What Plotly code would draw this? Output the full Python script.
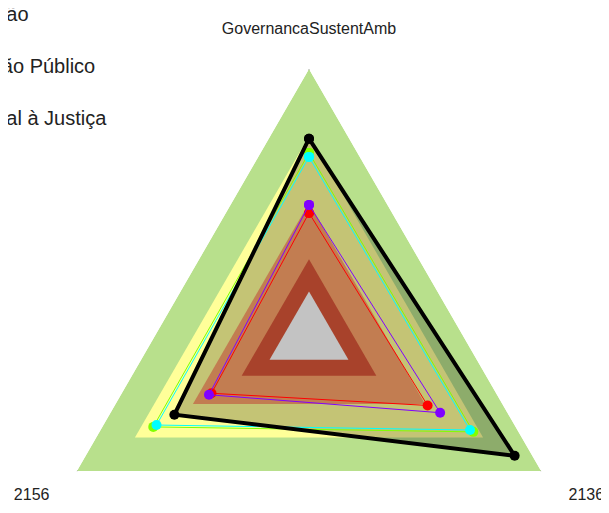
import plotly.graph_objects as go

# eixos do radar
categorias = ["GovernancaSustentAmb", "2156", "2136"]

# faixas de referencia (da maior para a menor)
faixas = [1.0, 0.75, 0.50, 0.29, 0.17]
cores_faixas = ["#b8e08c", "#ffff99", "#c27d51", "#a8422b", "#c3c3c3"]

# series
nomes = ["Média Geral", "Média do Segmento", "Opinião", "Gestão Público", "Formal à Justiça"]
vermelho = [0.463, 0.420, 0.511]
roxo = [0.493, 0.431, 0.565]
verde_limao = [0.687, 0.671, 0.708]
ciano = [0.672, 0.657, 0.694]
preto = [0.740, 0.580, 0.886]

series = [vermelho, roxo, verde_limao, ciano, preto]
cores_series = ["#ff0000", "#8000ff", "#80ff00", "#00ffff", "#000000"]
legenda = [False, False, True, True, True]


def fechar(v):
    return list(v) + list(v[:1])


theta = fechar(categorias)
fig = go.Figure()


def faixa(v, cor):
    fig.add_trace(go.Scatterpolar(r=fechar([v] * len(categorias)), theta=theta, mode="lines",
                                  fill="toself", fillcolor=cor, line=dict(width=0),
                                  showlegend=False, hoverinfo="skip"))


for v, cor in zip(faixas[:2], cores_faixas[:2]):
    faixa(v, cor)

# preenchimento da serie preta
fig.add_trace(go.Scatterpolar(r=fechar(preto), theta=theta, mode="lines", fill="toself",
                              fillcolor="rgba(0,0,0,0.23)", line=dict(width=0),
                              showlegend=False, hoverinfo="skip"))

for v, cor in zip(faixas[2:], cores_faixas[2:]):
    faixa(v, cor)

for nome, vals, cor, leg in zip(nomes, series, cores_series, legenda):
    largura = 4 if cor == "#000000" else 1
    fig.add_trace(go.Scatterpolar(r=fechar(vals), theta=theta, mode="lines+markers", name=nome,
                                  legendgroup=nome, showlegend=leg,
                                  line=dict(color=cor, width=largura),
                                  marker=dict(color=cor, size=10)))

fig.update_layout(
    width=601, height=597,
    margin=dict(l=33, r=32, t=61, b=0, autoexpand=False),
    paper_bgcolor="white",
    font=dict(family="Arial, Liberation Sans, sans-serif", color="#222222"),
    polar=dict(
        gridshape="linear",
        bgcolor="rgba(0,0,0,0)",
        angularaxis=dict(type="category", rotation=90, direction="counterclockwise",
                         categoryarray=categorias,
                         showline=False, gridcolor="#a9a9a9", ticks="outside", ticklen=28,
                         tickcolor="rgba(0,0,0,0)", tickfont=dict(size=16),
                         layer="above traces"),
        radialaxis=dict(range=[0, 1], tickvals=faixas, showticklabels=False, showline=False,
                        ticks="", gridcolor="#a9a9a9", layer="above traces"),
    ),
    legend=dict(x=-0.2265, xanchor="left", y=1.1399, yanchor="top", font=dict(size=20),
                tracegroupgap=23, bgcolor="rgba(0,0,0,0)"),
)

fig.write_html("out.html")
